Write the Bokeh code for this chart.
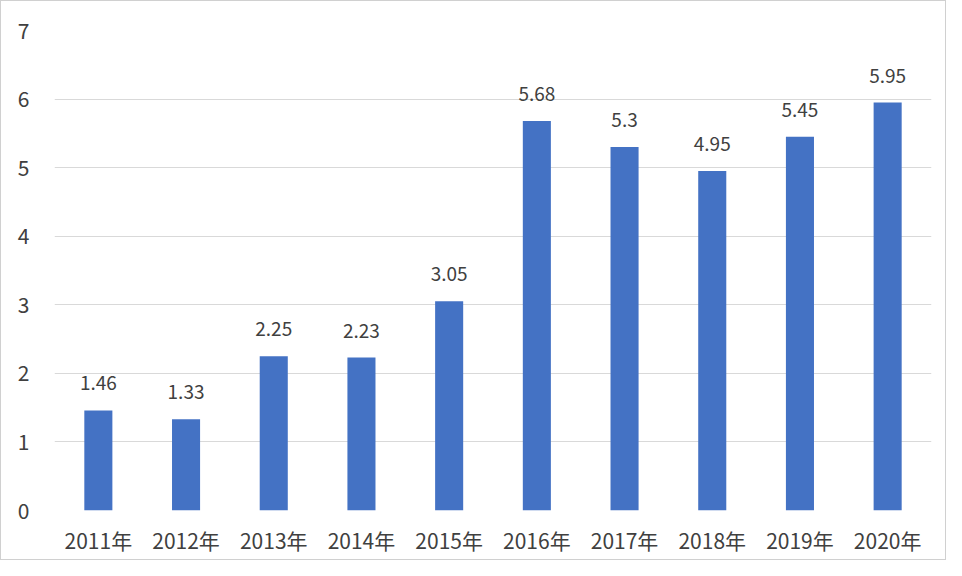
from bokeh.plotting import figure
from bokeh.models import ColumnDataSource, Range1d, FactorRange, FixedTicker, LabelSet
from bokeh.embed import file_html
from bokeh.resources import INLINE
from bokeh.core.properties import value

years = ["2011年", "2012年", "2013年", "2014年", "2015年", "2016年", "2017年", "2018年", "2019年", "2020年"]
values = [1.46, 1.33, 2.25, 2.23, 3.05, 5.68, 5.3, 4.95, 5.45, 5.95]
labels = ["1.46", "1.33", "2.25", "2.23", "3.05", "5.68", "5.3", "4.95", "5.45", "5.95"]
y_ticks = [0, 1, 2, 3, 4, 5, 6, 7]

FONT = "Noto Sans CJK SC"
TEXT = "#404040"

src = ColumnDataSource(dict(x=years, top=values, label=labels))

p = figure(width=946, height=560, x_range=FactorRange(*years, range_padding=0),
           y_range=Range1d(0, 7), output_backend="svg", toolbar_location=None,
           min_border_left=53, min_border_right=16, min_border_top=29, min_border_bottom=51)
p.vbar(x="x", top="top", width=0.32, source=src, color="#4472C4", line_color=None)

p.add_layout(LabelSet(x="x", y="top", text="label", source=src, text_align="center",
                      text_baseline="bottom", y_offset=20, text_font=value(FONT),
                      text_font_size="19px", text_color=TEXT))

p.outline_line_color = None
p.background_fill_color = "#ffffff"
p.border_fill_color = "#ffffff"
p.xgrid.grid_line_color = None
p.ygrid.grid_line_color = "#d9d9d9"
p.ygrid.grid_line_width = 1
p.yaxis.ticker = FixedTicker(ticks=y_ticks)

for ax in (p.xaxis[0], p.yaxis[0]):
    ax.axis_line_color = None
    ax.major_tick_line_color = None
    ax.minor_tick_line_color = None
    ax.major_label_text_font = FONT
    ax.major_label_text_font_size = "21px"
    ax.major_label_text_color = TEXT
p.yaxis.major_label_standoff = 19
p.xaxis.major_label_standoff = 8

p.styles = {"border": "1px solid #d0d0d0"}

open("out.html", "w").write(file_html(p, INLINE))
